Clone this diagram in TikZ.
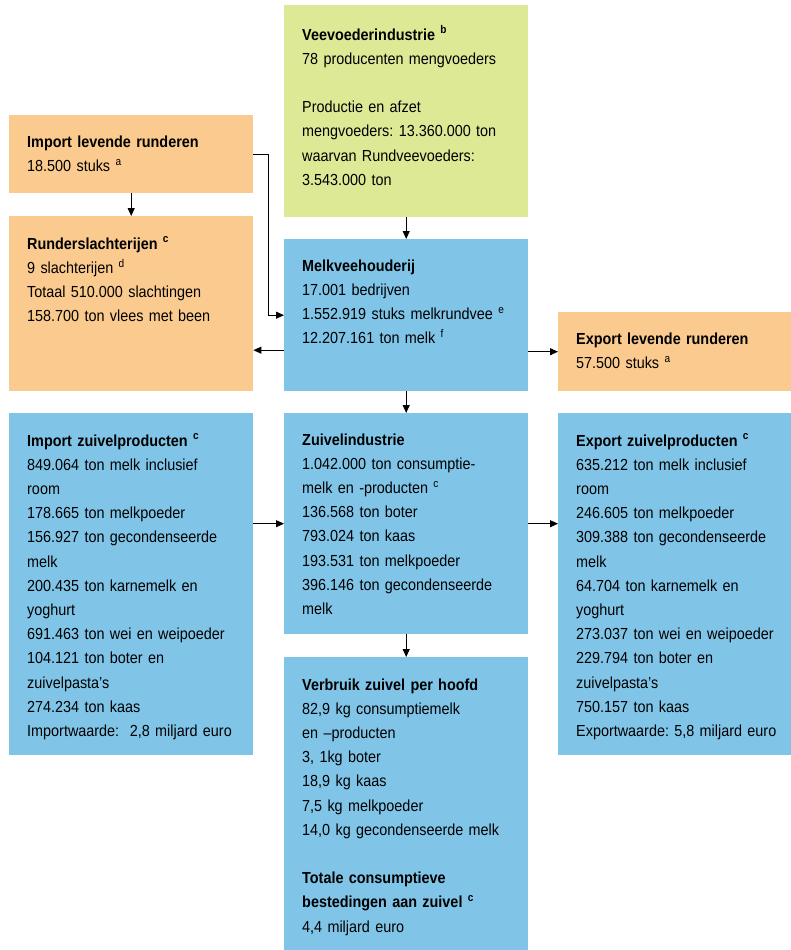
\documentclass[tikz,border=0pt]{standalone}
\usepackage{fontspec}
\setmainfont{Liberation Sans}[FakeStretch=0.9]
\usepackage{xcolor}
\usetikzlibrary{arrows.meta, positioning}
\definecolor{peach}{RGB}{250,202,142}
\definecolor{lime}{RGB}{222,233,150}
\definecolor{skyblue}{RGB}{128,197,232}
\frenchspacing

\tikzset{
  box/.style={rectangle, draw=none, anchor=north west, inner sep=0pt},
  txt/.style={anchor=north west, inner sep=0pt, text width=240pt, align=left,
    font=\fontsize{16}{24.2}\selectfont},
  flow/.style={-{Triangle[length=8pt,width=7pt]}, line width=1pt, black}
}
\newcommand{\fn}[1]{~\textsuperscript{#1}}

\begin{document}
\begin{tikzpicture}[x=1pt, y=-1pt, line cap=butt, line join=miter]
	\useasboundingbox (0,0) rectangle (791,950);

	% boxes
	\node[box, fill=lime, minimum width=244pt, minimum height=212pt] (vee) at (284,5) {};
	\node[box, fill=skyblue, minimum width=244pt, minimum height=152pt] (melk) at (284,239) {};
	\node[box, fill=peach, minimum width=244pt, minimum height=78pt] (imp) at (9,115) {};
	\node[box, fill=peach, minimum width=244pt, minimum height=175pt] (sla) at (9,216) {};
	\node[box, fill=peach, minimum width=233pt, minimum height=79pt] (exl) at (558,312) {};
	\node[box, fill=skyblue, minimum width=244pt, minimum height=342pt] (imz) at (9,413) {};
	\node[box, fill=skyblue, minimum width=244pt, minimum height=221pt] (zui) at (284,413) {};
	\node[box, fill=skyblue, minimum width=233pt, minimum height=342pt] (exz) at (558,413) {};
	\node[box, fill=skyblue, minimum width=244pt, minimum height=293pt] (ver) at (284,657) {};

	% texts
	\node[txt, below right=18pt and 18pt of vee.north west] (veeT) {\strut\textbf{Veevoederindustrie\fn{b}}\\
		78 producenten mengvoeders\\[24.2pt]
		Productie en afzet\\
		mengvoeders: 13.360.000 ton\\
		waarvan Rundveevoeders:\\
		3.543.000 ton};
	\node[txt, below right=15pt and 18pt of melk.north west] (melkT) {\strut\textbf{Melkveehouderij}\\
		17.001 bedrijven\\
		1.552.919 stuks melkrundvee\fn{e}\\
		12.207.161 ton melk\fn{f}};
	\node[txt, below right=15pt and 18pt of imp.north west] (impT) {\strut\textbf{Import levende runderen}\\
		18.500 stuks\fn{a}};
	\node[txt, below right=16pt and 18pt of sla.north west] (slaT) {\strut\textbf{Runderslachterijen\fn{c}}\\
		9 slachterijen\fn{d}\\
		Totaal 510.000 slachtingen\\
		158.700 ton vlees met been};
	\node[txt, below right=15pt and 18pt of exl.north west] (exlT) {\strut\textbf{Export levende runderen}\\
		57.500 stuks\fn{a}};
	\node[txt, below right=16pt and 18pt of imz.north west] (imzT) {\strut\textbf{Import zuivelproducten\fn{c}}\\
		849.064 ton melk inclusief\\
		room\\
		178.665 ton melkpoeder\\
		156.927 ton gecondenseerde\\
		melk\\
		200.435 ton karnemelk en\\
		yoghurt\\
		691.463 ton wei en weipoeder\\
		104.121 ton boter en\\
		zuivelpasta’s\\
		274.234 ton kaas\\
		Importwaarde:\ \ 2,8 miljard euro};
	\node[txt, below right=15pt and 18pt of zui.north west] (zuiT) {\strut\textbf{Zuivelindustrie}\\
		1.042.000 ton consumptie-\\
		melk en -producten\fn{c}\\
		136.568 ton boter\\
		793.024 ton kaas\\
		193.531 ton melkpoeder\\
		396.146 ton gecondenseerde\\
		melk};
	\node[txt, below right=16pt and 18pt of exz.north west] (exzT) {\strut\textbf{Export zuivelproducten\fn{c}}\\
		635.212 ton melk inclusief\\
		room\\
		246.605 ton melkpoeder\\
		309.388 ton gecondenseerde\\
		melk\\
		64.704 ton karnemelk en\\
		yoghurt\\
		273.037 ton wei en weipoeder\\
		229.794 ton boter en\\
		zuivelpasta’s\\
		750.157 ton kaas\\
		Exportwaarde: 5,8 miljard euro};
	\node[txt, below right=16pt and 18pt of ver.north west] (verT) {\strut\textbf{Verbruik zuivel per hoofd}\\
		82,9 kg consumptiemelk\\
		en –producten\\
		3, 1kg boter\\
		18,9 kg kaas\\
		7,5 kg melkpoeder\\
		14,0 kg gecondenseerde melk\\[24.2pt]
		\textbf{Totale consumptieve}\\
		\textbf{bestedingen aan zuivel\fn{c}}\\
		4,4 miljard euro};

	% flows
	\draw[flow] (imp.south) -- (sla.north);
	\draw[flow] (imp.east) -- ++(15pt,0) |- (melk.west);
	\draw[flow] (vee.south) -- (melk.north);
	\draw[flow] ([yshift=-35pt]melk.west) -- ([yshift=-35pt]melk.west -| sla.east);
	\draw[flow] (melk.east |- exl.west) -- (exl.west);
	\draw[flow] (melk.south) -- (zui.north);
	\draw[flow] (imz.east |- zui.west) -- (zui.west);
	\draw[flow] (zui.east) -- (zui.east -| exz.west);
	\draw[flow] (zui.south) -- (ver.north);
\end{tikzpicture}
\end{document}
